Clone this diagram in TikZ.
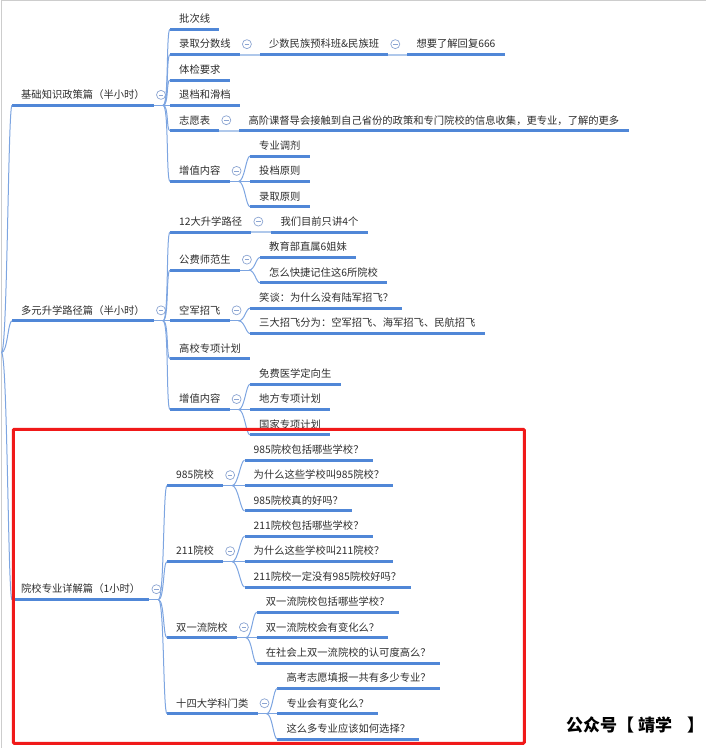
\documentclass[tikz,border=0pt]{standalone}
\usepackage{fontspec}
\usetikzlibrary{positioning}
\newfontfamily\cjk{Noto Sans CJK SC}
\definecolor{lineblue}{RGB}{80,135,215}
\definecolor{linkblue}{RGB}{125,165,225}
\definecolor{paleblue}{RGB}{175,200,235}
\definecolor{foldgray}{RGB}{140,165,210}
\definecolor{txt}{RGB}{45,45,45}
\definecolor{framegray}{RGB}{205,205,205}
\definecolor{boxred}{RGB}{240,25,25}
% collapse mark next to a topic that has children
\newcommand{\foldmark}[1]{\node[fold] (#1-f) at ([shift={(7pt,10.5pt)}]#1.south east) {};}
\begin{document}
\begin{tikzpicture}[x=1pt, y=-25.35pt, every node/.style={font=\cjk\fontsize{10.3}{12}\selectfont, text=txt}]
    \tikzstyle{uline} = [draw=lineblue, line width=3pt]
    \tikzstyle{topic} = [anchor=south west, inner xsep=9pt, inner ysep=3pt, text height=9pt, text depth=3.5pt,
        append after command={(\tikzlastnode.south west) edge[uline] (\tikzlastnode.south east)}]
    \tikzstyle{fold} = [circle, draw=foldgray, fill=white, line width=0.7pt, minimum size=9pt, inner sep=0pt,
        path picture={\draw[foldgray, line width=0.7pt] ([xshift=-2.3pt]path picture bounding box.center) -- ([xshift=2.3pt]path picture bounding box.center);}]
    \tikzstyle{link} = [draw=linkblue, line width=1pt]
    \tikzstyle{chain} = [draw=paleblue, line width=2pt]
    \tikzstyle{branch} = [link, to path={.. controls +(6,0) and +(-4,0) .. (\tikztotarget)}]
    \useasboundingbox (0pt,29.3pt) rectangle (706pt,-718.7pt);
    \draw[framegray, line width=1pt] (1pt,-718.7pt) -- (1pt,28.5pt) -- (706pt,28.5pt);

    % main topics
    \coordinate (root) at (1.5,12.75);
    \node[topic] (jc) at (12,3) {基础知识政策篇（半小时）};
    \node[topic] (dy) at (12,11.5) {多元升学路径篇（半小时）};
    \node[topic] (yx) at (12,22.5) {院校专业详解篇（1小时）};
    \foldmark{jc} \foldmark{dy} \foldmark{yx}
    \foreach \c in {jc,dy,yx} \draw[branch] (root) to (\c.south west);

    % 基础知识政策篇
    \node[topic] (pcx) at (170,0) {批次线};
    \node[topic] (lqfs) at (170,1) {录取分数线};
    \node[topic, right=20pt of lqfs] (ssmz) {少数民族预科班\&民族班};
    \node[topic, right=19pt of ssmz] (hf) {想要了解回复666};
    \node[topic] (tjyq) at (170,2) {体检要求};
    \node[topic] (tdhd) at (170,3) {退档和滑档};
    \node[topic] (zyb) at (170,4) {志愿表};
    \node[topic, right=20pt of zyb] (gjk) {高阶课督导会接触到自己省份的政策和专门院校的信息收集，更专业，了解的更多};
    \node[topic] (zz1) at (170,6) {增值内容};
    \node[topic] (zytj) at (250,5) {专业调剂};
    \node[topic] (tdyz) at (250,6) {投档原则};
    \node[topic] (lqyz) at (250,7) {录取原则};
    \foldmark{lqfs} \foldmark{ssmz} \foldmark{zyb} \foldmark{zz1}
    \draw[link] (jc.south east) -- ++(9,0) coordinate (jc-j);
    \foreach \c in {pcx,lqfs,tjyq,tdhd,zyb,zz1} \draw[branch] (jc-j) to (\c.south west);
    \draw[chain] (lqfs.south east) -- (ssmz.south west);
    \draw[chain] (ssmz.south east) -- (hf.south west);
    \draw[chain] (zyb.south east) -- (gjk.south west);
    \draw[link] (zz1.south east) -- ++(9,0) coordinate (zz1-j);
    \foreach \c in {zytj,tdyz,lqyz} \draw[branch] (zz1-j) to (\c.south west);

    % 多元升学路径篇
    \node[topic] (sxlj) at (170,8) {12大升学路径};
    \node[topic, right=20pt of sxlj] (j4) {我们目前只讲4个};
    \node[topic] (gfsf) at (170,9.5) {公费师范生};
    \node[topic] (jyb) at (260,9) {教育部直属6姐妹};
    \node[topic] (kjjz) at (260,10) {怎么快捷记住这6所院校};
    \node[topic] (kjzf) at (170,11.5) {空军招飞};
    \node[topic] (xt) at (250,11) {笑谈：为什么没有陆军招飞？};
    \node[topic] (sdzf) at (250,12) {三大招飞分为：空军招飞、海军招飞、民航招飞};
    \node[topic] (gxzx) at (170,13) {高校专项计划};
    \node[topic] (zz2) at (170,15) {增值内容};
    \node[topic] (mfyx) at (250,14) {免费医学定向生};
    \node[topic] (dfzx) at (250,15) {地方专项计划};
    \node[topic] (gjzx) at (250,16) {国家专项计划};
    \foldmark{sxlj} \foldmark{gfsf} \foldmark{kjzf} \foldmark{zz2}
    \draw[link] (dy.south east) -- ++(9,0) coordinate (dy-j);
    \foreach \c in {sxlj,gfsf,kjzf,gxzx,zz2} \draw[branch] (dy-j) to (\c.south west);
    \draw[chain] (sxlj.south east) -- (j4.south west);
    \draw[link] (gfsf.south east) -- ++(9,0) coordinate (gfsf-j);
    \foreach \c in {jyb,kjjz} \draw[branch] (gfsf-j) to (\c.south west);
    \draw[link] (kjzf.south east) -- ++(9,0) coordinate (kjzf-j);
    \foreach \c in {xt,sdzf} \draw[branch] (kjzf-j) to (\c.south west);
    \draw[link] (zz2.south east) -- ++(9,0) coordinate (zz2-j);
    \foreach \c in {mfyx,dfzx,gjzx} \draw[branch] (zz2-j) to (\c.south west);

    % 院校专业详解篇
    \node[topic] (y985) at (167,18) {985院校};
    \node[topic] (a985) at (244.5,17) {985院校包括哪些学校？};
    \node[topic] (b985) at (244.5,18) {为什么这些学校叫985院校？};
    \node[topic] (c985) at (244.5,19) {985院校真的好吗？};
    \node[topic] (y211) at (167,21) {211院校};
    \node[topic] (a211) at (244.5,20) {211院校包括哪些学校？};
    \node[topic] (b211) at (244.5,21) {为什么这些学校叫211院校？};
    \node[topic] (c211) at (244.5,22) {211院校一定没有985院校好吗？};
    \node[topic] (syl) at (167,24) {双一流院校};
    \node[topic] (asyl) at (256.7,23) {双一流院校包括哪些学校？};
    \node[topic] (bsyl) at (256.7,24) {双一流院校会有变化么？};
    \node[topic] (csyl) at (256.7,25) {在社会上双一流院校的认可度高么？};
    \node[topic] (xkml) at (167,27) {十四大学科门类};
    \node[topic] (axk) at (277.3,26) {高考志愿填报一共有多少专业？};
    \node[topic] (bxk) at (277.3,27) {专业会有变化么？};
    \node[topic] (cxk) at (277.3,28) {这么多专业应该如何选择？};
    \foldmark{y985} \foldmark{y211} \foldmark{syl} \foldmark{xkml}
    \draw[link] (yx.south east) -- ++(9,0) coordinate (yx-j);
    \foreach \c in {y985,y211,syl,xkml} \draw[branch] (yx-j) to (\c.south west);
    \foreach \p/\k in {y985/985,y211/211,syl/syl,xkml/xk} {
        \draw[link] (\p.south east) -- ++(9,0) coordinate (\p-j);
        \foreach \c in {a,b,c} \draw[branch] (\p-j) to (\c\k.south west);
    }

    \draw[boxred, line width=3pt, rounded corners=1pt] (13.3pt,-400pt) rectangle (524.3pt,-714pt);
    \node[font=\cjk\bfseries\fontsize{17}{20}\selectfont, text=black, anchor=west, inner sep=0pt] (gzh) at (566pt,-695.7pt) {公众号【 靖学\hspace{15pt}】};
\end{tikzpicture}
\end{document}
